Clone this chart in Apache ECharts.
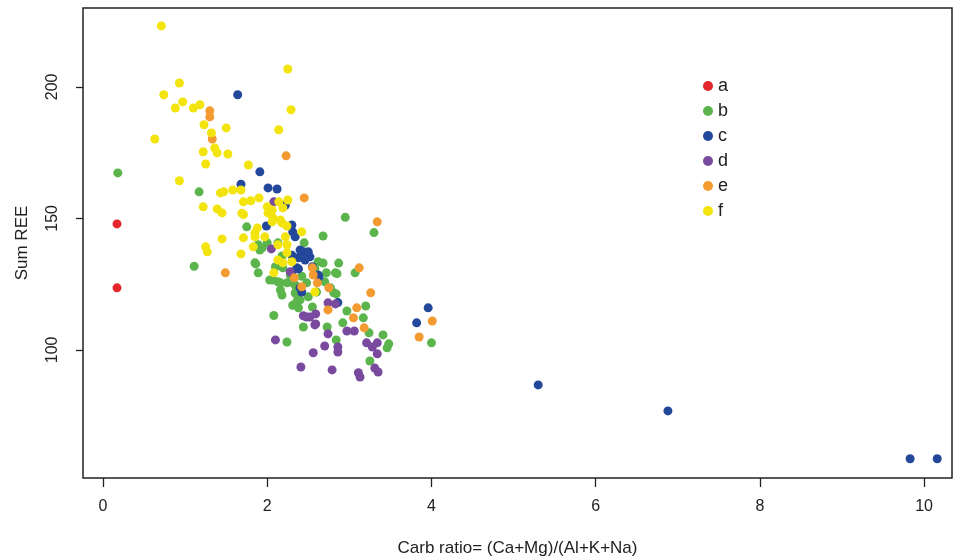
<!DOCTYPE html>
<html>
<head>
<meta charset="utf-8">
<title>Sum REE vs Carb ratio</title>
<script src="https://cdn.jsdelivr.net/npm/echarts@6/dist/echarts.min.js"></script>
<style>
  html, body { margin: 0; padding: 0; background: #fff; }
  #main { width: 957px; height: 559px; }
</style>
</head>
<body>
<div id="main"></div>
<script>
// tick values
var xTicks = [0, 2, 4, 6, 8, 10];
var yTicks = [100, 150, 200];

// groups, [carb ratio, sum REE]
var groupNames = ['a', 'b', 'c', 'd', 'e', 'f'];
var groupColors = ['#e3262b', '#5cb54c', '#22479b', '#7a4a9f', '#f39b30', '#f2e40c'];

var dataA = [[0.17, 147.9], [0.17, 123.6]];

var dataB = [
  [0.18, 167.3], [1.11, 131.8], [1.17, 160.1], [2.95, 150.4], [3.30, 144.6],
  [2.68, 143.3], [2.68, 133.0], [2.87, 133.0], [2.85, 129.0], [3.07, 129.3],
  [3.20, 116.7], [2.97, 114.8], [3.17, 112.2], [2.92, 110.3], [3.24, 106.5],
  [3.41, 105.7], [3.48, 102.3], [3.46, 100.8], [3.25, 95.8], [2.73, 108.7],
  [2.44, 108.7], [2.84, 103.8], [4.00, 102.7], [2.24, 103.0], [2.08, 113.1],
  [2.31, 117.0], [2.40, 119.0], [2.55, 116.3], [2.18, 120.9], [2.13, 125.9],
  [2.84, 121.3], [1.86, 132.7], [1.89, 129.3], [2.07, 126.6], [2.16, 125.5],
  [2.72, 129.3], [2.83, 129.3], [2.81, 121.7], [2.48, 125.5], [2.36, 118.3],
  [2.38, 116.0], [2.34, 124.7], [2.50, 120.2], [2.35, 121.3], [2.16, 122.8],
  [2.03, 126.6], [2.45, 140.7], [2.16, 133.5], [2.18, 135.7], [2.13, 140.7],
  [2.00, 140.7], [1.91, 138.0], [1.89, 140.0], [1.85, 133.1], [1.75, 146.8],
  [1.94, 138.8], [2.10, 131.6], [2.19, 131.2], [2.24, 125.5], [2.31, 125.5],
  [2.34, 121.7], [2.62, 133.5], [2.70, 125.9], [2.77, 123.6], [2.28, 128.5],
  [2.42, 128.0], [2.58, 131.0], [2.60, 122.0]
];

var dataC = [
  [1.64, 197.0], [1.91, 167.7], [1.68, 163.0], [2.01, 161.6], [2.12, 161.2],
  [2.22, 155.0], [1.99, 147.1], [2.30, 147.5], [2.31, 144.9], [2.34, 143.0],
  [2.40, 138.0], [2.44, 137.3], [2.50, 137.3], [2.52, 135.4], [2.38, 135.0],
  [2.36, 131.2], [2.55, 131.6], [2.62, 128.5], [2.30, 136.0], [2.42, 122.0],
  [2.86, 118.0], [2.63, 127.8], [2.30, 129.3], [2.38, 130.8], [2.46, 134.2],
  [2.40, 123.6], [3.82, 110.3], [3.96, 116.0], [5.30, 86.7], [6.88, 76.8],
  [9.83, 58.6], [10.16, 58.6]
];

var dataD = [
  [2.97, 107.2], [3.06, 107.2], [3.21, 102.7], [3.34, 102.7], [3.28, 101.1],
  [3.34, 98.5], [3.31, 93.1], [3.35, 91.6], [3.11, 91.3], [3.13, 89.7],
  [2.79, 92.4], [2.86, 101.1], [2.86, 99.2], [2.70, 101.5], [2.56, 98.9],
  [2.41, 93.5], [2.59, 109.9], [2.74, 106.1], [2.48, 112.5], [2.10, 103.8],
  [2.44, 113.0], [2.52, 112.5], [2.59, 113.7], [2.58, 109.5], [2.74, 117.9],
  [2.83, 117.5], [2.05, 138.4], [2.08, 156.3], [2.28, 129.7]
];

var dataE = [
  [3.34, 148.7], [3.12, 131.2], [3.26, 121.7], [3.09, 116.0], [3.05, 112.2],
  [3.18, 108.4], [4.01, 111.0], [3.85, 104.9], [2.74, 115.2], [2.42, 124.0],
  [2.75, 123.6], [1.49, 129.3], [2.61, 125.5], [2.33, 127.4], [2.55, 131.2],
  [2.56, 128.5], [2.23, 173.8], [1.33, 180.2], [1.30, 190.9], [1.30, 188.6],
  [2.45, 157.8]
];

var dataF = [
  [0.71, 223.2], [2.25, 206.8], [0.93, 201.5], [0.74, 197.0], [2.29, 191.3],
  [0.97, 194.3], [0.88, 192.0], [1.10, 192.0], [1.18, 193.2], [1.23, 185.6],
  [1.32, 182.5], [1.50, 184.4], [2.14, 183.7], [0.63, 180.2], [1.22, 175.3],
  [1.36, 176.8], [1.39, 174.9], [1.52, 174.5], [1.25, 170.7], [1.77, 170.3],
  [0.93, 164.3], [1.43, 159.7], [1.47, 160.1], [1.58, 160.8], [1.68, 160.8],
  [1.71, 156.3], [1.80, 156.7], [1.90, 157.8], [2.00, 154.4], [2.06, 153.2],
  [2.14, 156.3], [2.25, 157.0], [2.19, 154.0], [1.22, 154.4], [1.39, 153.6],
  [1.45, 152.1], [1.71, 151.5], [2.01, 152.1], [2.07, 150.2], [2.16, 149.4],
  [1.88, 146.4], [1.85, 144.5], [1.71, 142.6], [1.45, 142.2], [2.24, 147.1],
  [2.22, 143.0], [1.25, 139.2], [1.27, 137.3], [1.68, 136.5], [1.83, 139.2],
  [1.85, 143.0], [2.08, 129.3], [2.30, 133.5], [2.24, 136.9], [2.19, 133.1],
  [1.69, 152.0], [1.97, 143.0], [2.06, 148.7], [2.13, 140.0], [2.18, 148.3],
  [2.24, 140.0], [2.13, 134.2], [2.42, 144.9], [2.58, 122.0]
];

var groups = [dataA, dataB, dataC, dataD, dataE, dataF];

var myChart = echarts.init(document.getElementById('main'), null, { renderer: 'canvas' });

var font = 'Liberation Sans, Arial, Helvetica, sans-serif';

var series = groups.map(function (d, i) {
  return {
    name: groupNames[i],
    type: 'scatter',
    data: d,
    symbol: 'circle',
    symbolSize: 9,
    itemStyle: { color: groupColors[i], opacity: 1 },
    emphasis: { disabled: true }
  };
});

myChart.setOption({
  backgroundColor: '#fff',
  animation: false,
  grid: {
    left: 83,
    right: 5,
    top: 8,
    bottom: 81,
    outerBoundsMode: 'none',
    show: true,
    borderColor: '#222',
    borderWidth: 1.5,
    backgroundColor: 'transparent'
  },
  legend: {
    orient: 'vertical',
    left: 698,
    top: 72,
    icon: 'circle',
    itemWidth: 10,
    itemHeight: 10,
    itemGap: 7,
    data: groupNames,
    textStyle: { color: '#222', fontSize: 18, fontFamily: font, lineHeight: 18 }
  },
  xAxis: {
    type: 'value',
    min: -0.244,
    max: 10.34,
    name: 'Carb ratio= (Ca+Mg)/(Al+K+Na)',
    nameLocation: 'middle',
    nameGap: 62,
    nameTextStyle: { color: '#222', fontSize: 17, fontFamily: font },
    axisLine: { show: false, onZero: false },
    axisTick: {
      show: true,
      customValues: xTicks,
      length: 9,
      lineStyle: { color: '#222', width: 1.3 }
    },
    axisLabel: {
      customValues: xTicks,
      margin: 21,
      color: '#222',
      fontSize: 16,
      fontFamily: font
    },
    splitLine: { show: false }
  },
  yAxis: {
    type: 'value',
    min: 51.3,
    max: 230,
    name: 'Sum REE',
    nameLocation: 'middle',
    nameGap: 52,
    nameRotate: 90,
    nameTextStyle: { color: '#222', fontSize: 17, fontFamily: font },
    axisLine: { show: false, onZero: false },
    axisTick: {
      show: true,
      customValues: yTicks,
      length: 7,
      lineStyle: { color: '#222', width: 1.3 }
    },
    axisLabel: {
      customValues: yTicks,
      rotate: 90,
      margin: 22,
      color: '#222',
      fontSize: 16,
      fontFamily: font
    },
    splitLine: { show: false }
  },
  series: series
});
</script>
</body>
</html>
